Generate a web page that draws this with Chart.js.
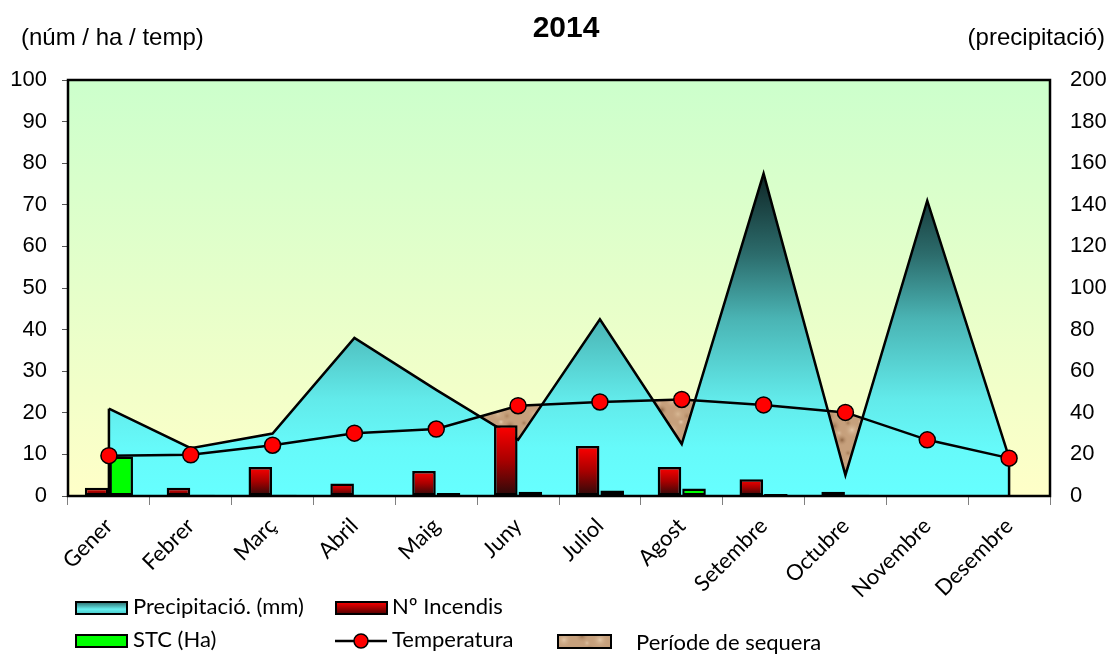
<!DOCTYPE html>
<html>
<head>
<meta charset="utf-8">
<script src="https://cdn.jsdelivr.net/npm/chart.js@4.4.0/dist/chart.umd.min.js"></script>
<style>
html, body { margin: 0; padding: 0; background: #fff; }
</style>
</head>
<body>
<canvas id="chart" width="1113" height="655"></canvas>
<script>
const months = ['Gener', 'Febrer', 'Març', 'Abril', 'Maig', 'Juny', 'Juliol', 'Agost', 'Setembre', 'Octubre', 'Novembre', 'Desembre'];
const precipitacio = [42, 23, 30, 76, 51, 27, 85, 25, 155, 10, 142, 18.4];
const incendis = [2, 2, 7, 3, 6, 17, 12, 7, 4, 1, 0, 0];
const stc = [9.5, 0.3, 0.3, 0.2, 0.7, 1, 1.3, 1.8, 0.5, 0.3, 0, 0];
const temperatura = [9.7, 9.9, 12.2, 15.1, 16.1, 21.7, 22.6, 23.2, 21.9, 20.1, 13.5, 9.1];
const leftTicks = [0, 100, 10];
const rightTicks = [0, 200, 20];

// textura marró per al període de sequera
function makeDroughtPattern() {
    const c = document.createElement('canvas');
    c.width = 36; c.height = 30;
    const g = c.getContext('2d');
    g.fillStyle = '#c6a07c';
    g.fillRect(0, 0, 36, 30);
    const spots = [[6, 6, 7, '#9a7250'], [24, 10, 8, '#e2c6a6'], [14, 20, 6, '#8e6644'], [30, 24, 7, '#d8b894'],
        [3, 26, 5, '#b08660'], [20, 3, 4, '#a47a54'], [33, 2, 4, '#e6ccae'], [11, 13, 4, '#dcc0a0']];
    spots.forEach(([x, y, r, col]) => {
        const rg = g.createRadialGradient(x, y, 0, x, y, r);
        rg.addColorStop(0, col);
        rg.addColorStop(1, 'rgba(198,160,124,0)');
        g.fillStyle = rg;
        g.fillRect(x - r, y - r, r * 2, r * 2);
    });
    return g;
}
const patternCtx = makeDroughtPattern();
const canvas = document.getElementById('chart');
const ctx = canvas.getContext('2d');
const droughtPattern = ctx.createPattern(patternCtx.canvas, 'repeat');

function precipFill(context) {
    const chart = context.chart;
    const area = chart.chartArea;
    if (!area || !chart.scales.y1) return '#66ffff';
    const top = chart.scales.y1.getPixelForValue(Math.max(...precipitacio));
    const bottom = chart.scales.y1.getPixelForValue(0);
    const g = chart.ctx.createLinearGradient(0, top, 0, bottom);
    g.addColorStop(0, '#0f2626');
    g.addColorStop(0.25, '#2c6c6c');
    g.addColorStop(0.45, '#4ab4b4');
    g.addColorStop(0.7, '#62eaea');
    g.addColorStop(0.85, '#66fafa');
    g.addColorStop(1, '#66ffff');
    return g;
}

function redFill(context) {
    const chart = context.chart;
    if (context.type !== 'data' || !chart.chartArea) return '#ff0000';
    const y = chart.scales.y;
    const top = y.getPixelForValue(context.raw);
    const bottom = y.getPixelForValue(0);
    if (bottom - top < 1) return '#ff0000';
    const g = chart.ctx.createLinearGradient(0, top, 0, bottom);
    g.addColorStop(0, '#ff0000');
    g.addColorStop(0.5, '#a80000');
    g.addColorStop(1, '#2a0a0a');
    return g;
}

const decor = {
    id: 'decor',
    beforeDraw(chart) {
        const a = chart.chartArea;
        const c = chart.ctx;
        const g = c.createLinearGradient(0, a.top, 0, a.bottom);
        g.addColorStop(0, '#ccffcc');
        g.addColorStop(1, '#ffffc8');
        c.save();
        c.fillStyle = g;
        c.fillRect(a.left, a.top, a.right - a.left, a.bottom - a.top);
        c.restore();
    },
    afterDatasetDraw(chart, args) {
        if (args.index !== 0) return;
        // vores verticals de l'àrea de precipitació
        const pts = chart.getDatasetMeta(0).data;
        const base = chart.scales.y1.getPixelForValue(0);
        const c = chart.ctx;
        c.save();
        c.strokeStyle = '#000';
        c.lineWidth = 2.5;
        [pts[0], pts[pts.length - 1]].forEach(p => {
            c.beginPath();
            c.moveTo(p.x, p.y);
            c.lineTo(p.x, base);
            c.stroke();
        });
        c.restore();
    },
    afterDraw(chart) {
        const a = chart.chartArea;
        const c = chart.ctx;
        c.save();
        c.strokeStyle = '#000';
        c.lineWidth = 2.5;
        c.strokeRect(a.left, a.top, a.right - a.left, a.bottom - a.top);

        c.fillStyle = '#000';
        c.textBaseline = 'middle';
        c.font = 'bold 30px "Liberation Sans", Arial, sans-serif';
        c.textAlign = 'center';
        c.fillText('2014', 566, 29);
        c.font = '24px "Liberation Sans", Arial, sans-serif';
        c.textAlign = 'left';
        c.fillText('(núm / ha / temp)', 21, 38);
        c.textAlign = 'right';
        c.fillText('(precipitació)', 1105, 38);

        // llegenda
        c.textAlign = 'left';
        c.font = '22px Lato, "Open Sans", sans-serif';
        c.lineWidth = 2;
        const box = (x, y, w, h, fill) => {
            c.fillStyle = fill;
            c.fillRect(x, y, w, h);
            c.strokeStyle = '#000';
            c.strokeRect(x, y, w, h);
        };
        let g = c.createLinearGradient(0, 602, 0, 614);
        g.addColorStop(0, '#2a6a6a');
        g.addColorStop(0.6, '#66f0f0');
        g.addColorStop(1, '#4ac8c8');
        box(76, 602, 51, 12, g);
        c.fillStyle = '#000';
        c.fillText('Precipitació. (mm)', 133, 607);

        g = c.createLinearGradient(0, 602, 0, 614);
        g.addColorStop(0, '#ff0000');
        g.addColorStop(1, '#500000');
        box(336, 602, 51, 12, g);
        c.fillStyle = '#000';
        c.fillText('Nº Incendis', 392, 607);

        box(76, 635, 51, 12, '#00ff00');
        c.fillStyle = '#000';
        c.fillText('STC (Ha)', 133, 640);

        c.beginPath();
        c.moveTo(335, 641);
        c.lineTo(387, 641);
        c.lineWidth = 2.5;
        c.stroke();
        c.beginPath();
        c.arc(361, 641, 7, 0, Math.PI * 2);
        c.fillStyle = '#ff0000';
        c.fill();
        c.lineWidth = 1.5;
        c.stroke();
        c.fillStyle = '#000';
        c.fillText('Temperatura', 392, 640);
        c.lineWidth = 2;
        box(558, 635, 53, 13, droughtPattern);
        c.fillStyle = '#000';
        c.fillText('Període de sequera', 636, 643);
        c.restore();
    }
};

new Chart(canvas, {
    type: 'bar',
    data: {
        labels: months,
        datasets: [
            {
                type: 'line',
                label: 'Precipitació. (mm)',
                data: precipitacio,
                yAxisID: 'y1',
                order: 3,
                borderColor: '#000',
                borderWidth: 2.5,
                backgroundColor: precipFill,
                fill: 'origin',
                pointRadius: 0,
                tension: 0
            },
            {
                label: 'Nº Incendis',
                data: incendis,
                yAxisID: 'y',
                order: 2,
                backgroundColor: redFill,
                borderColor: '#000',
                borderWidth: 2.5,
                borderSkipped: false,
                categoryPercentage: 0.6,
                barPercentage: 0.96
            },
            {
                label: 'STC (Ha)',
                data: stc,
                yAxisID: 'y',
                order: 2,
                backgroundColor: '#00ff00',
                borderColor: '#000',
                borderWidth: 2.5,
                borderSkipped: false,
                categoryPercentage: 0.6,
                barPercentage: 0.96
            },
            {
                type: 'line',
                label: 'Temperatura',
                data: temperatura,
                yAxisID: 'y',
                order: 0,
                borderColor: '#000',
                borderWidth: 2.5,
                pointRadius: 8,
                pointBackgroundColor: '#ff0000',
                pointBorderColor: '#000',
                pointBorderWidth: 1.5,
                tension: 0,
                fill: { target: 0, above: droughtPattern, below: 'rgba(0,0,0,0)' }
            }
        ]
    },
    options: {
        responsive: false,
        animation: false,
        devicePixelRatio: 1,
        layout: { padding: { top: 80, left: 0, right: 0, bottom: 0 } },
        plugins: {
            legend: { display: false },
            title: { display: false },
            tooltip: { enabled: false },
            filler: { drawTime: 'beforeDatasetsDraw' }
        },
        scales: {
            x: {
                grid: { drawOnChartArea: false, drawTicks: true, tickLength: 9, color: '#808080', offset: true },
                border: { display: false },
                ticks: {
                    minRotation: 45,
                    maxRotation: 45,
                    padding: 8,
                    color: '#000',
                    font: { family: 'Lato, "Open Sans", sans-serif', size: 22 }
                },
                afterFit(scale) { scale.height = 159; }
            },
            y: {
                position: 'left',
                min: leftTicks[0],
                max: leftTicks[1],
                grid: { drawOnChartArea: false, drawTicks: true, tickLength: 6, color: '#555' },
                border: { display: false },
                ticks: {
                    stepSize: leftTicks[2],
                    padding: 15,
                    color: '#000',
                    font: { family: '"Liberation Sans", Arial, sans-serif', size: 22 }
                },
                afterFit(scale) { scale.width = 68; }
            },
            y1: {
                position: 'right',
                min: rightTicks[0],
                max: rightTicks[1],
                grid: { drawOnChartArea: false, drawTicks: false },
                border: { display: false },
                ticks: {
                    stepSize: rightTicks[2],
                    padding: 20,
                    color: '#000',
                    font: { family: '"Liberation Sans", Arial, sans-serif', size: 22 }
                },
                afterFit(scale) { scale.width = 63; }
            }
        }
    },
    plugins: [decor]
});
</script>
</body>
</html>
